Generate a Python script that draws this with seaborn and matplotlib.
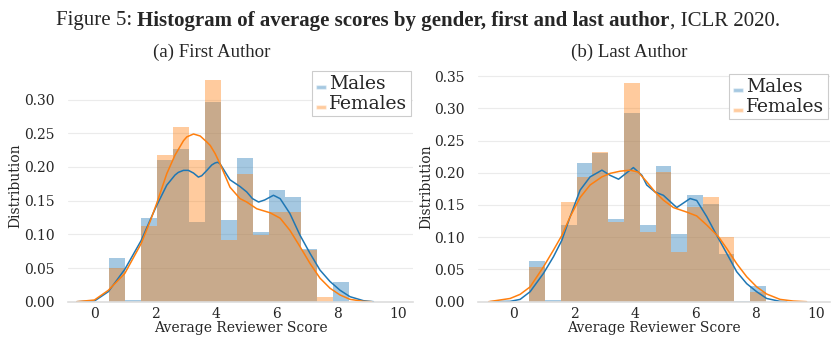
import numpy as np
import pandas as pd
import seaborn as sns
import matplotlib.pyplot as plt
from matplotlib.patches import Patch, Rectangle
from matplotlib.legend_handler import HandlerPatch

# histogram heights (density), 15 bins in each panel
first_male = [0.065, 0.0025, 0.124, 0.210, 0.226, 0.118, 0.296, 0.121, 0.213, 0.103, 0.166, 0.155, 0.078, 0.0, 0.029]
first_female = [0.050, 0.0, 0.112, 0.2175, 0.259, 0.210, 0.329, 0.0915, 0.189, 0.099, 0.133, 0.133, 0.077, 0.007, 0.0]
last_male = [0.063, 0.0026, 0.119, 0.215, 0.230, 0.128, 0.293, 0.119, 0.210, 0.105, 0.165, 0.151, 0.074, 0.0015, 0.025]
last_female = [0.054, 0.0, 0.154, 0.193, 0.232, 0.123, 0.339, 0.108, 0.201, 0.077, 0.147, 0.162, 0.100, 0.0, 0.015]

first_edges = np.linspace(0.48, 8.37, 16)
last_edges = np.linspace(0.52, 8.34, 16)

# kde curves, sampled by eye
first_male_kx = [-0.58, 0.0, 0.46, 1.0, 1.54, 1.83, 2.05, 2.38, 2.65, 2.76, 2.93, 3.09, 3.26, 3.42, 3.53, 3.7, 3.86, 3.97, 4.05, 4.13,
                 4.46, 4.79, 5.01, 5.2, 5.4, 5.6, 5.89, 6.11, 6.43, 6.76, 7.09, 7.42, 7.75, 8.08, 8.41, 8.85, 9.18]
first_male_ky = [0.0, 0.001, 0.015, 0.048, 0.091, 0.121, 0.143, 0.173, 0.188, 0.192, 0.195, 0.195, 0.191, 0.185, 0.187, 0.195, 0.203, 0.206, 0.207, 0.205,
                 0.181, 0.171, 0.163, 0.153, 0.148, 0.151, 0.158, 0.153, 0.131, 0.099, 0.072, 0.047, 0.030, 0.017, 0.0074, 0.0015, 0.0]
first_female_kx = [-0.58, 0.0, 0.46, 1.0, 1.54, 1.83, 2.05, 2.38, 2.65, 2.93, 3.04, 3.26, 3.48, 3.7, 3.81, 3.97, 4.13,
                   4.46, 4.79, 5.01, 5.34, 5.78, 6.11, 6.43, 6.76, 7.09, 7.42, 7.75, 8.08, 8.41, 8.85, 9.12]
first_female_ky = [0.0, 0.0025, 0.017, 0.042, 0.0865, 0.119, 0.146, 0.19, 0.2175, 0.239, 0.2447, 0.249, 0.246, 0.237, 0.232, 0.22, 0.205,
                   0.17, 0.153, 0.148, 0.138, 0.132, 0.124, 0.106, 0.082, 0.057, 0.035, 0.020, 0.010, 0.0035, 0.0005, 0.0]

last_male_kx = [-0.77, -0.11, 0.22, 0.55, 0.99, 1.32, 1.6, 1.87, 2.2, 2.53, 2.92, 3.19, 3.47, 3.74, 3.96, 4.24,
                4.4, 4.68, 4.95, 5.39, 5.83, 6.05, 6.38, 6.71, 7.04, 7.37, 7.7, 8.03, 8.36, 8.8, 9.02]
last_male_ky = [0.0, 0.0005, 0.0036, 0.0155, 0.0439, 0.0697, 0.0955, 0.1316, 0.173, 0.1936, 0.204, 0.196, 0.19, 0.2, 0.208, 0.196,
                0.181, 0.170, 0.165, 0.146, 0.16, 0.157, 0.132, 0.103, 0.075, 0.0465, 0.028, 0.0155, 0.005, 0.0005, 0.0]
last_female_kx = [-0.82, -0.11, 0.22, 0.55, 0.99, 1.32, 1.6, 1.87, 2.2, 2.53, 2.92, 3.19, 3.52, 3.85, 4.12,
                  4.4, 4.68, 4.95, 5.28, 5.72, 6.05, 6.38, 6.77, 7.04, 7.37, 7.7, 8.03, 8.36, 8.8, 9.24, 9.68]
last_female_ky = [0.0, 0.005, 0.0114, 0.023, 0.054, 0.08, 0.103, 0.1316, 0.1616, 0.181, 0.1936, 0.199, 0.2024, 0.204, 0.201,
                  0.186, 0.170, 0.1575, 0.146, 0.139, 0.133, 0.119, 0.1007, 0.0826, 0.059, 0.0387, 0.023, 0.0119, 0.0036, 0.001, 0.0]

blue = '#1f77b4'
orange = '#ff7f0e'

sns.set_style("whitegrid", {"grid.color": "#ebebeb"})
plt.rcParams['font.family'] = ['DejaVu Serif']


def flat_patch(legend, orig_handle, xdescent, ydescent, width, height, fontsize):
    # short flat swatch sitting on the text baseline
    return Rectangle((0, 0), width, 0.18 * fontsize)


fig = plt.figure(figsize=(8.36, 3.52), dpi=100)
ax1 = fig.add_axes([0.0813, 0.1429, 0.4127, 0.661])
ax2 = fig.add_axes([0.5718, 0.1429, 0.421, 0.652])

panels = [
    (ax1, first_edges, first_male, first_female, first_male_kx, first_male_ky, first_female_kx, first_female_ky, (-0.87, 10.48)),
    (ax2, last_edges, last_male, last_female, last_male_kx, last_male_ky, last_female_kx, last_female_ky, (-1.17, 10.45)),
]

for ax, edges, male, female, mkx, mky, fkx, fky, xlim in panels:
    centers = (edges[:-1] + edges[1:]) / 2
    df = pd.DataFrame({'score': centers, 'male': male, 'female': female})
    sns.histplot(data=df, x='score', weights='male', bins=edges.tolist(), stat='count', color=blue,
                 alpha=0.4, linewidth=0, ax=ax)
    sns.histplot(data=df, x='score', weights='female', bins=edges.tolist(), stat='count', color=orange,
                 alpha=0.4, linewidth=0, ax=ax)
    sns.lineplot(x=mkx, y=mky, color=blue, lw=1.1, ax=ax)
    sns.lineplot(x=fkx, y=fky, color=orange, lw=1.1, ax=ax)

    ax.set_xlim(*xlim)
    ax.set_ylim(bottom=0)
    ax.set_xticks([0, 2, 4, 6, 8, 10])
    ax.yaxis.set_major_formatter(plt.FormatStrFormatter('%.2f'))
    ax.xaxis.grid(False)
    ax.tick_params(axis='both', labelsize=10)
    ax.tick_params(axis='y', pad=6)
    ax.tick_params(axis='x', pad=0.5)
    ax.set_xlabel('Average Reviewer Score', fontsize=10, labelpad=0)
    ax.set_ylabel('Distribution', fontsize=10, labelpad=1)
    sns.despine(ax=ax, left=True)
    ax.spines['bottom'].set_color('#dddddd')
    ax.spines['bottom'].set_linewidth(1.2)

    handles = [Patch(facecolor=blue, alpha=0.4), Patch(facecolor=orange, alpha=0.4)]
    leg = ax.legend(handles, ['Males', 'Females'], loc='upper right', fontsize=13.5,
                    handlelength=0.55, handleheight=0.25, handletextpad=0.15,
                    labelspacing=0.1, borderpad=0.2, borderaxespad=0.1,
                    fancybox=False, framealpha=1, edgecolor='#cccccc',
                    handler_map={Patch: HandlerPatch(patch_func=flat_patch)})
    leg.get_frame().set_linewidth(0.8)

# captions in a Times-like face
fig.text(212 / 836, 1 - 52 / 352, '(a) First Author', family='Liberation Serif', fontsize=13.6,
         ha='center', va='center')
fig.text(629 / 836, 1 - 52 / 352, '(b) Last Author', family='Liberation Serif', fontsize=13.6,
         ha='center', va='center')

parts = [('Figure 5:', 'normal'),
         ('Histogram of average scores by gender, first and last author', 'bold'),
         (', ICLR 2020.', 'normal')]
ty = 1 - 21 / 352
fs = 15.0
texts = [fig.text(0, ty, s, family='Liberation Serif', fontweight=w, fontsize=fs, va='center')
         for s, w in parts]
fig.canvas.draw()
r = fig.canvas.get_renderer()
widths = [t.get_window_extent(r).width for t in texts]
gaps = [0.25 * fs * 100 / 72, 0]
total = sum(widths) + sum(gaps)
x = (418 - total / 2)
for t, w, g in zip(texts, widths, gaps + [0]):
    t.set_x(x / 836)
    x += w + g

fig.savefig('out.png', dpi=100)
